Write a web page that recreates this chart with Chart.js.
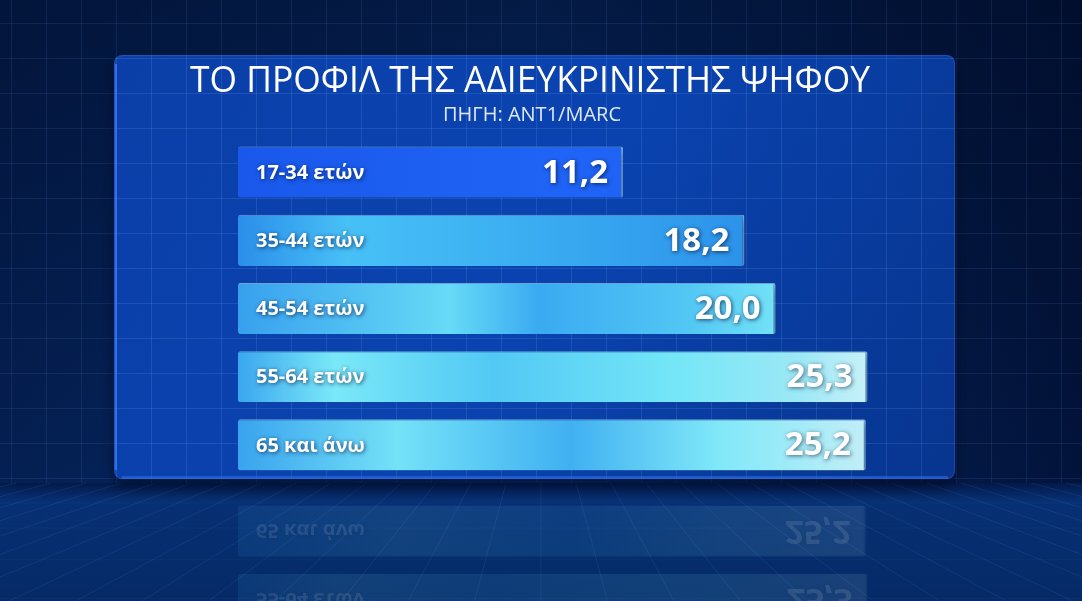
<!DOCTYPE html>
<html>
<head>
<meta charset="utf-8">
<script src="https://cdn.jsdelivr.net/npm/chart.js@4.4.1/dist/chart.umd.min.js"></script>
<style>
  html, body { margin: 0; padding: 0; background: #031a48; overflow: hidden; }
  canvas { display: block; }
</style>
</head>
<body>
<canvas id="myChart" width="1082" height="601"></canvas>
<script>
const title = "ΤΟ ΠΡΟΦΙΛ ΤΗΣ ΑΔΙΕΥΚΡΙΝΙΣΤΗΣ ΨΗΦΟΥ";
const subtitle = "ΠΗΓΗ: ANT1/MARC";
const categories = ["17-34 ετών", "35-44 ετών", "45-54 ετών", "55-64 ετών", "65 και άνω"];
const values = [11.2, 18.2, 20.0, 25.3, 25.2];
const valueLabels = ["11,2", "18,2", "20,0", "25,3", "25,2"];

// colour stops along the chart area for each bar (fraction, colour)
const barStops = [
  [[0, "#1958ea"], [0.5, "#1f64f6"], [1, "#1d60f2"]],
  [[0, "#2a8eea"], [0.17, "#47c0f6"], [0.42, "#3cb0f2"], [0.8, "#2c92ea"]],
  [[0, "#37a0ee"], [0.33, "#66daf6"], [0.47, "#3aaaf1"], [0.7, "#52c6f4"], [0.84, "#72e2f7"]],
  [[0, "#3aa6ef"], [0.15, "#7ae8f8"], [0.4, "#52c8f4"], [0.68, "#74e6f7"], [0.88, "#9de8f6"], [1, "#cdf2f8"]],
  [[0, "#39a3ee"], [0.25, "#74e2f7"], [0.52, "#40b0f1"], [0.75, "#80e8f8"], [1, "#c6eef7"]],
];

const FLOOR = 483;

function roundRect(ctx, x, y, w, h, r) {
  ctx.beginPath();
  ctx.moveTo(x + r, y);
  ctx.lineTo(x + w - r, y);
  ctx.quadraticCurveTo(x + w, y, x + w, y + r);
  ctx.lineTo(x + w, y + h - r);
  ctx.quadraticCurveTo(x + w, y + h, x + w - r, y + h);
  ctx.lineTo(x + r, y + h);
  ctx.quadraticCurveTo(x, y + h, x, y + h - r);
  ctx.lineTo(x, y + r);
  ctx.quadraticCurveTo(x, y, x + r, y);
  ctx.closePath();
}

function drawGrid(ctx, w, h, color) {
  ctx.strokeStyle = color;
  ctx.lineWidth = 1;
  ctx.beginPath();
  for (let x = 11; x < w; x += 35) { ctx.moveTo(x + 0.5, 0); ctx.lineTo(x + 0.5, FLOOR); }
  for (let y = 23; y < FLOOR; y += 35) { ctx.moveTo(0, y + 0.5); ctx.lineTo(w, y + 0.5); }
  ctx.stroke();
}

const backdrop = {
  id: "backdrop",
  beforeDraw(chart) {
    const ctx = chart.ctx;
    const w = chart.width, h = chart.height;
    ctx.save();
    // outer background
    let g = ctx.createLinearGradient(0, 0, w, 0);
    g.addColorStop(0, "#041f52");
    g.addColorStop(0.5, "#062a66");
    g.addColorStop(1, "#02133a");
    ctx.fillStyle = g;
    ctx.fillRect(0, 0, w, h);
    let v = ctx.createLinearGradient(0, 0, 0, FLOOR);
    v.addColorStop(0, "rgba(0,8,30,0.45)");
    v.addColorStop(1, "rgba(0,8,30,0)");
    ctx.fillStyle = v;
    ctx.fillRect(0, 0, w, FLOOR);
    drawGrid(ctx, w, h, "rgba(110,160,240,0.12)");

    // floor
    let f = ctx.createLinearGradient(0, FLOOR, 0, h);
    f.addColorStop(0, "#03194a");
    f.addColorStop(0.15, "#073073");
    f.addColorStop(1, "#052a66");
    ctx.fillStyle = f;
    ctx.fillRect(0, FLOOR, w, h - FLOOR);
    ctx.strokeStyle = "rgba(120,170,255,0.11)";
    ctx.beginPath();
    for (let i = -20; i <= 20; i++) {
      ctx.moveTo(541 + i * 35, FLOOR);
      ctx.lineTo(541 + i * 35 * 1.9, h);
    }
    ctx.stroke();
    ctx.strokeStyle = "rgba(120,170,255,0.05)";
    ctx.beginPath();
    for (let y = FLOOR + 20, s = 20; y < h; s *= 1.25, y += s) {
      ctx.moveTo(0, y); ctx.lineTo(w, y);
    }
    ctx.stroke();

    // panel
    ctx.shadowColor = "rgba(0,5,25,0.6)";
    ctx.shadowBlur = 14;
    ctx.shadowOffsetY = 6;
    roundRect(ctx, 114, 55, 841, 424, 9);
    let p = ctx.createLinearGradient(114, 55, 955, 479);
    p.addColorStop(0, "#0b3fa8");
    p.addColorStop(0.5, "#0a43b0");
    p.addColorStop(1, "#07358f");
    ctx.fillStyle = p;
    ctx.fill();
    ctx.shadowColor = "transparent";
    ctx.save();
    roundRect(ctx, 114, 55, 841, 424, 9);
    ctx.clip();
    drawGrid(ctx, w, h, "rgba(140,190,255,0.15)");
    ctx.restore();
    roundRect(ctx, 114.5, 55.5, 840, 423, 9);
    ctx.strokeStyle = "rgba(60,120,230,0.35)";
    ctx.lineWidth = 1;
    ctx.stroke();
    ctx.fillStyle = "rgba(60,130,255,0.7)";
    ctx.fillRect(115, 64, 2, 406);
    ctx.fillStyle = "rgba(40,110,230,0.6)";
    ctx.fillRect(122, 476, 826, 3);

    // titles
    ctx.fillStyle = "#ffffff";
    ctx.textAlign = "center";
    ctx.textBaseline = "alphabetic";
    ctx.font = "37px 'Open Sans'";
    ctx.fillText(title, 530, 92, 680);
    ctx.fillStyle = "#dfe8f8";
    ctx.font = "20px 'Open Sans'";
    ctx.fillText(subtitle, 532, 121, 190);
    ctx.restore();
  },
  beforeDatasetsDraw(chart) {
    const ctx = chart.ctx;
    ctx.save();
    ctx.shadowColor = "rgba(0,8,35,0.55)";
    ctx.shadowBlur = 8;
    ctx.shadowOffsetY = 4;
  },
  afterDatasetsDraw(chart) {
    const ctx = chart.ctx;
    ctx.restore();
    drawTexts(chart, ctx);
    // reflection on the floor
    ctx.save();
    ctx.beginPath();
    ctx.rect(0, FLOOR + 8, chart.width, chart.height);
    ctx.clip();
    ctx.translate(0, 2 * FLOOR + 10);
    ctx.scale(1, -1);
    ctx.globalAlpha = 0.11;
    chart.getDatasetMeta(0).data.forEach(el => el.draw(ctx));
    drawTexts(chart, ctx);
    ctx.restore();
  }
};

function drawTexts(chart, ctx) {
  const meta = chart.getDatasetMeta(0);
  meta.data.forEach((el, i) => {
    ctx.save();
    ctx.textBaseline = "middle";
    ctx.fillStyle = "#ffffff";
    ctx.shadowColor = "rgba(0,20,70,0.75)";
    ctx.shadowBlur = 4;
    ctx.shadowOffsetX = 1;
    ctx.shadowOffsetY = 1;
    ctx.textAlign = "left";
    ctx.font = "bold 20px 'Open Sans'";
    ctx.fillText(categories[i], el.base + 18, el.y + 1);
    if (i >= 3) ctx.shadowColor = "rgba(40,70,100,0.8)";
    ctx.textAlign = "right";
    ctx.font = "bold 33px 'Open Sans'";
    ctx.fillText(valueLabels[i], el.x - 15, el.y + 1);
    ctx.restore();
  });
}

new Chart(document.getElementById("myChart"), {
  type: "bar",
  data: {
    labels: categories,
    datasets: [{
      data: values,
      base: -11,
      backgroundColor(c) {
        const area = c.chart.chartArea;
        if (!area) return "#2a8eea";
        const g = c.chart.ctx.createLinearGradient(area.left, 0, area.right, 0);
        barStops[c.dataIndex].forEach(s => g.addColorStop(s[0], s[1]));
        return g;
      },
      borderColor: "rgba(170,225,255,0.7)",
      borderWidth: { top: 1, right: 2, bottom: 0, left: 0 },
      borderSkipped: false,
      borderRadius: 2,
      categoryPercentage: 1,
      barPercentage: 0.75,
    }],
  },
  options: {
    responsive: false,
    animation: false,
    indexAxis: "y",
    layout: { padding: { left: 238, right: 204, top: 138, bottom: 122 } },
    scales: {
      x: { display: false, min: -11, max: 25.9 },
      y: { display: false },
    },
    plugins: {
      legend: { display: false },
      tooltip: { enabled: false },
    },
  },
  plugins: [backdrop],
});
</script>
</body>
</html>
